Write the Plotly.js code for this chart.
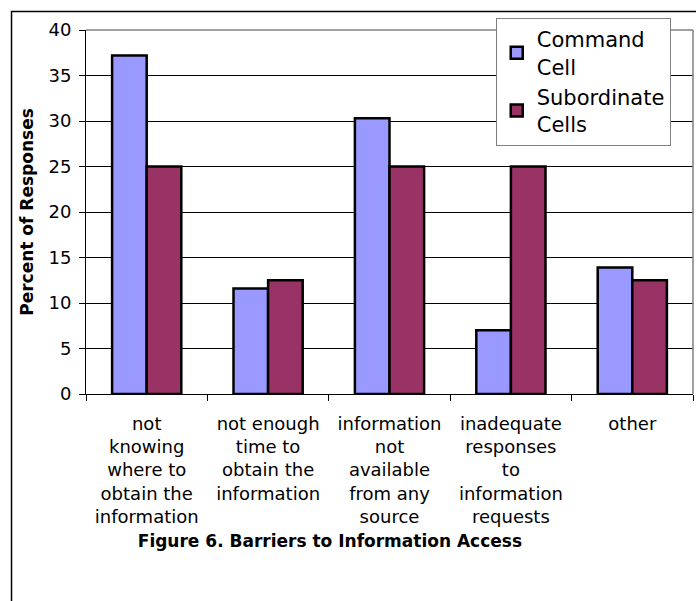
<!DOCTYPE html>
<html>
<head>
<meta charset="utf-8">
<script src="https://cdn.plot.ly/plotly-3.0.1.min.js"></script>
<style>html,body{margin:0;padding:0;background:#fff;}#chart{width:696px;height:601px;}</style>
</head>
<body>
<div id="chart"></div>
<script>
var categories = [
  "not<br>knowing<br>where to<br>obtain the<br>information",
  "not enough<br>time to<br>obtain the<br>information",
  "information<br>not<br>available<br>from any<br>source",
  "inadequate<br>responses<br>to<br>information<br>requests",
  "other"
];
var commandCell = [37.2, 11.6, 30.3, 7.0, 13.9];
var subordinateCells = [25, 12.5, 25, 25, 12.5];
var seriesNames = ["Command<br>Cell", "Subordinate<br>Cells"];
var yTickVals = [0, 5, 10, 15, 20, 25, 30, 35, 40];

var FONT = "DejaVu Sans, Arial, sans-serif";

var traces = [
  {type: "bar", name: seriesNames[0], x: categories, y: commandCell,
   marker: {color: "#9999FF", line: {color: "#000", width: 2.5}}},
  {type: "bar", name: seriesNames[1], x: categories, y: subordinateCells,
   marker: {color: "#993366", line: {color: "#000", width: 2.5}}}
];

var layout = {
  width: 696, height: 601,
  margin: {l: 86, r: 3, t: 30, b: 207},
  paper_bgcolor: "#fff", plot_bgcolor: "#fff",
  font: {family: FONT, color: "#000", size: 18},
  barmode: "group", bargap: 0.43, bargroupgap: 0,
  showlegend: true,
  legend: {x: 0.675, y: 1.033, xanchor: "left", yanchor: "top",
           bgcolor: "#fff", bordercolor: "#808080", borderwidth: 1,
           font: {family: FONT, size: 21, color: "#000"}, tracegroupgap: 0},
  title: {text: "<b>Figure 6. Barriers to Information Access</b>",
          font: {family: FONT, size: 17, color: "#000"},
          xref: "container", yref: "container", x: 0.474, y: 0.1,
          xanchor: "center", yanchor: "middle"},
  xaxis: {type: "category", tickson: "boundaries", ticks: "outside", ticklen: 6,
          tickcolor: "#000", showline: true, linecolor: "#000", linewidth: 1,
          showgrid: false, tickangle: 0, ticklabelstandoff: 13,
          tickfont: {family: FONT, size: 18, color: "#000"}, fixedrange: true},
  yaxis: {range: [0, 40], tickvals: yTickVals, ticks: "outside", ticklen: 6,
          tickcolor: "#000", showline: true, linecolor: "#000", linewidth: 1,
          showgrid: true, gridcolor: "#000", gridwidth: 1, zeroline: false,
          ticklabelstandoff: 4,
          tickfont: {family: FONT, size: 18, color: "#000"},
          title: {text: "<b>Percent of Responses</b>", standoff: 10,
                  font: {family: FONT, size: 17, color: "#000"}},
          fixedrange: true},
  shapes: [
    {type: "line", xref: "paper", yref: "paper", x0: 0, x1: 1, y0: 1, y1: 1,
     line: {color: "#808080", width: 1.5}, layer: "above"},
    {type: "line", xref: "paper", yref: "paper", x0: 1, x1: 1, y0: 0, y1: 1,
     line: {color: "#808080", width: 1.5}, layer: "above"},
    {type: "rect", xref: "paper", yref: "paper", x0: -0.1227, x1: 1.05, y0: -0.6, y1: 1.0508,
     line: {color: "#000", width: 1.5}, layer: "above"}
  ]
};

Plotly.newPlot("chart", traces, layout, {displayModeBar: false, staticPlot: true});
</script>
</body>
</html>
